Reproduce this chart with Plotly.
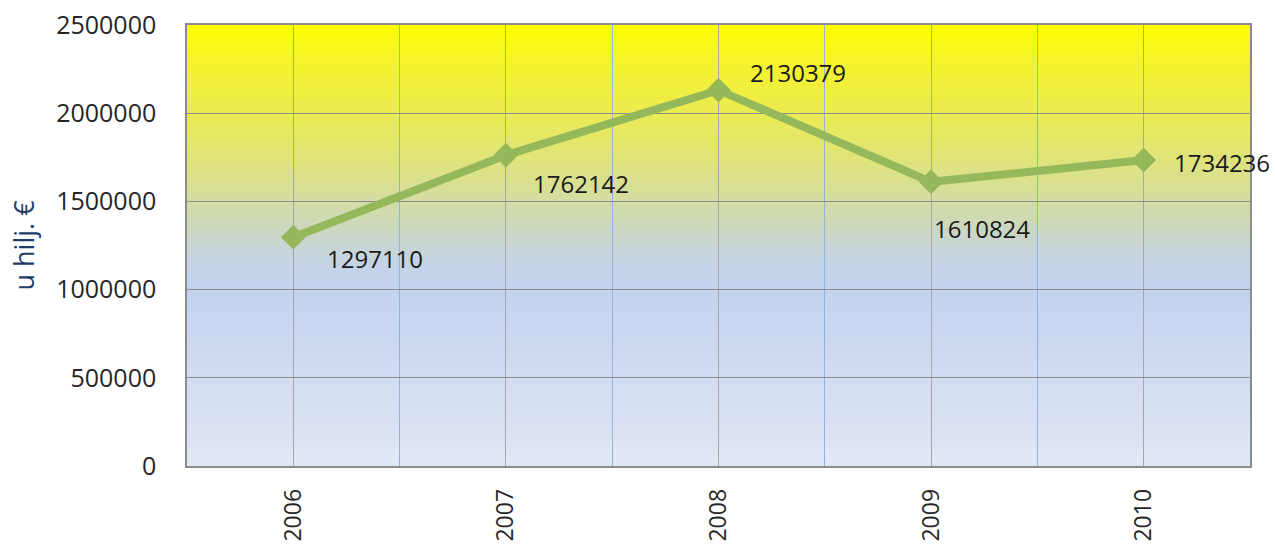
import plotly.graph_objects as go

# ---- data ----
years = [2006, 2007, 2008, 2009, 2010]
values = [1297110, 1762142, 2130379, 1610824, 1734236]
y_ticks = [0, 500000, 1000000, 1500000, 2000000, 2500000]
y_title = "u hilj. €"

# label offsets (pixels) for data labels
label_dx = [32, 25, 29, 1, 28]
label_dy = [-21, -28, 18, -47, -2]

FONT = "Open Sans"

fig = go.Figure()

# gradient background via thin strips (paper coords of plot area)
stops = [
    (0.00, (255, 255, 0)),
    (0.08, (245, 243, 40)),
    (0.20, (235, 235, 82)),
    (0.30, (224, 228, 120)),
    (0.38, (214, 222, 155)),
    (0.45, (206, 216, 185)),
    (0.50, (200, 213, 212)),
    (0.55, (196, 211, 232)),
    (0.60, (196, 211, 238)),
    (0.72, (204, 216, 240)),
    (0.86, (214, 222, 242)),
    (1.00, (225, 232, 245)),
]


def col_at(t):
    for i in range(len(stops) - 1):
        t0, c0 = stops[i]
        t1, c1 = stops[i + 1]
        if t0 <= t <= t1:
            f = (t - t0) / (t1 - t0) if t1 > t0 else 0
            c = [round(c0[k] + (c1[k] - c0[k]) * f) for k in range(3)]
            return "rgb(%d,%d,%d)" % tuple(c)
    return "rgb(%d,%d,%d)" % stops[-1][1]


N = 147
shapes = []
for i in range(N):
    t_top = i / N
    t_bot = (i + 1) / N
    shapes.append(dict(
        type="rect", xref="x domain", yref="y domain",
        x0=0, x1=1, y0=max(0, 1 - t_bot - 0.002), y1=1 - t_top,
        fillcolor=col_at((t_top + t_bot) / 2), line=dict(width=0),
        layer="below",
    ))

fig.add_trace(go.Scatter(
    x=years, y=values, mode="lines+markers",
    line=dict(color="#95B85A", width=8),
    marker=dict(symbol="diamond", size=19, color="#95B85A"),
    hoverinfo="x+y", showlegend=False,
))

annotations = []
for yr, v, dx, dy in zip(years, values, label_dx, label_dy):
    annotations.append(dict(
        x=yr, y=v, xref="x", yref="y", text=str(v), showarrow=False,
        xanchor="left", yanchor="middle", xshift=dx, yshift=dy,
        font=dict(family=FONT, size=24, color="#1A1A1A"),
    ))

half_vals = [y - 0.5 for y in years] + [years[-1] + 0.5]

fig.update_layout(
    width=1275, height=544,
    margin=dict(l=187, r=25, t=25, b=78),
    paper_bgcolor="white", plot_bgcolor="white",
    shapes=shapes, annotations=annotations,
    font=dict(family=FONT, size=24, color="#262626"),
    xaxis=dict(
        range=[years[0] - 0.5, years[-1] + 0.5], automargin=False,
        tickmode="array", tickvals=years, ticktext=[str(y) for y in years],
        tickangle=-90, showgrid=True, gridcolor="#A6A6A6", gridwidth=1,
        minor=dict(tickmode="array", tickvals=half_vals, showgrid=True,
                   gridcolor="#8EB4E3", gridwidth=1, ticks=""),
        showline=True, linecolor="#8C8C8C", linewidth=1.5, mirror=True,
        ticks="", zeroline=False, ticklabelstandoff=12,
        tickfont=dict(family=FONT, size=23, color="#262626"),
    ),
    yaxis=dict(
        range=[0, 2500000], tickmode="array", tickvals=y_ticks,
        ticktext=[str(v) for v in y_ticks], automargin=False,
        showgrid=True, gridcolor="#8C8C8C", gridwidth=1,
        showline=True, linecolor="#8C8C8C", linewidth=1.5, mirror=True,
        ticks="", zeroline=False, ticklabelstandoff=24,
        tickfont=dict(family=FONT, size=25, color="#262626"),
        title=dict(text=y_title, standoff=14,
                   font=dict(family=FONT, size=27, color="#1F3E6B")),
    ),
)

fig.write_html(
    "out.html",
    config={"displayModeBar": False},
    post_script="document.body.style.margin='0px';document.body.style.overflow='hidden';",
)
